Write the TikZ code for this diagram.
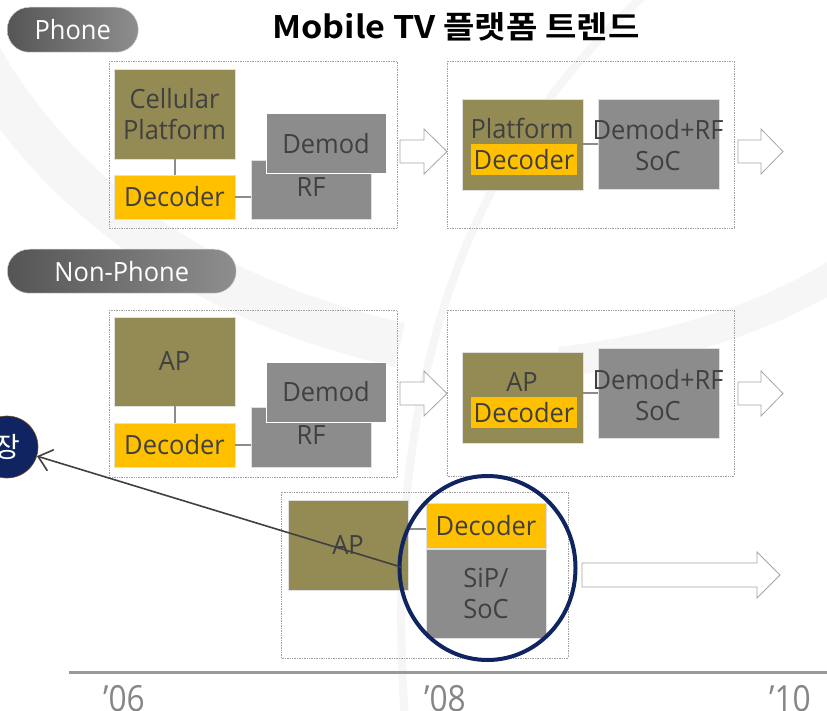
\documentclass[tikz,border=0pt]{standalone}
\usepackage{fontspec}
\setmainfont{Open Sans}[FakeStretch=0.96]
\newfontfamily\cjk{Noto Sans CJK KR}
\newfontfamily\cjkbold{Noto Sans CJK KR Bold}[FakeStretch=1.1]
\usetikzlibrary{arrows.meta}
\definecolor{olivebox}{HTML}{948A54}
\definecolor{yelbox}{HTML}{FFC000}
\definecolor{greybox}{HTML}{8C8C8C}
\definecolor{txtgrey}{HTML}{404040}
\definecolor{navy}{HTML}{0F2460}
\definecolor{pilldark}{HTML}{555555}
\definecolor{pilllight}{HTML}{8E8E8E}
\definecolor{swoosh}{HTML}{F6F6F6}
\tikzset{
  box/.style={anchor=north west, inner sep=0pt, outer sep=0pt, draw=white!88!black, line width=0.8pt,
     text=txtgrey, font=\fontsize{26.5}{31}\selectfont, align=center},
  olivebx/.style={box, fill=olivebox},
  yelbx/.style={box, fill=yelbox},
  greybx/.style={box, fill=greybox},
  frame/.style={draw=gray!75, densely dotted, line width=0.7pt},
  link/.style={draw=greybox, line width=2pt},
  hollow/.style={draw=gray!70, fill=white, line width=0.8pt},
  pill/.style={anchor=north west, rounded corners=22pt, left color=pilldark, right color=pilllight,
     draw=white!85!black, line width=0.5pt, text=white, font=\fontsize{26.5}{30}\selectfont, inner sep=0pt},
  lbl/.style={text=txtgrey, font=\fontsize{26.5}{31}\selectfont, align=center, inner sep=0pt},
  yearlbl/.style={anchor=base, text=gray!95, font=\fontsize{36}{40}\selectfont\addfontfeature{FakeStretch=0.88}, inner sep=0pt}
}
\begin{document}
\begin{tikzpicture}[x=1pt,y=-1pt]
\useasboundingbox[fill=white] (0,0) rectangle (827,711);
% faint background swooshes
\draw[swoosh, line width=45pt] (-40,20) .. controls (40,190) and (200,300) .. (400,345);
\draw[swoosh, line width=8pt] (650,-10) .. controls (480,140) and (380,360) .. (405,720);
\draw[swoosh, line width=30pt] (850,265) .. controls (770,320) and (660,350) .. (560,362);

% title
\node[font=\cjkbold\fontsize{31}{34}\selectfont, inner sep=0pt] (title) at (456,27) {Mobile TV 플랫폼 트렌드};

% pills
\node[pill, minimum width=131, minimum height=45] (phone) at (7,7) {Phone};
\node[pill, minimum width=229, minimum height=44] (nonphone) at (7,249) {Non-Phone};

% ---------- Phone, stage 1
\draw[frame] (109,61) rectangle (397,228);
\node[olivebx, minimum width=121, minimum height=90] (p1cell) at (114,69) {Cellular\\Platform};
\node[yelbx, minimum width=121, minimum height=44] (p1dec) at (114,175) {Decoder};
\node[greybx, minimum width=120, minimum height=59] (p1rf) at (251,160) {\raisebox{4pt}{RF}};
\node[greybx, draw=white, line width=1pt, minimum width=120, minimum height=60] (p1dem) at (266,114) {Demod};
\draw[link] (p1cell) -- (p1dec);
\draw[link] (p1dec.east) -- (p1dec.east -| p1rf.west);

\draw[hollow] (400,140) -- (424,140) -- (424,129) -- (447,151.5) -- (424,174) -- (424,163) -- (400,163) -- cycle;

% ---------- Phone, stage 2
\draw[frame] (447,61) rectangle (734,228);
\node[olivebx, minimum width=121, minimum height=91] (p2plat) at (462,99) {};
\node[greybx, minimum width=121, minimum height=90] (p2soc) at (598,99) {};
\draw[link] (p2plat.east) -- (p2plat.east -| p2soc.west);
\node[lbl] (p2platt) at (522,128) {Platform};
\node[yelbx, draw=none, minimum width=106, minimum height=31] (p2dec) at (471,144) {Decoder};
\node[lbl] (p2soct) at (658,145) {Demod+RF\\SoC};

\draw[hollow] (738,140) -- (761,140) -- (761,129) -- (783,151.5) -- (761,174) -- (761,163) -- (738,163) -- cycle;

% ---------- Non-Phone, stage 1
\draw[frame] (109,310) rectangle (397,477);
\node[olivebx, minimum width=121, minimum height=89] (n1ap) at (114,317) {AP};
\node[yelbx, minimum width=121, minimum height=44] (n1dec) at (114,423) {Decoder};
\node[greybx, minimum width=120, minimum height=60] (n1rf) at (251,407) {\raisebox{4pt}{RF}};
\node[greybx, draw=white, line width=1pt, minimum width=120, minimum height=60] (n1dem) at (266,362) {Demod};
\draw[link] (n1ap) -- (n1dec);
\draw[link] (n1dec.east) -- (n1dec.east -| n1rf.west);

\draw[hollow] (400,382) -- (424,382) -- (424,371) -- (447,393.5) -- (424,416) -- (424,405) -- (400,405) -- cycle;

% ---------- Non-Phone, stage 2
\draw[frame] (447,310) rectangle (734,476);
\node[olivebx, minimum width=121, minimum height=91] (n2ap) at (462,352) {};
\node[greybx, minimum width=121, minimum height=90] (n2soc) at (598,348) {};
\draw[link] (n2soc.west -| n2ap.east) -- (n2soc.west);
\node[lbl] (n2apt) at (522,382) {AP};
\node[yelbx, draw=none, minimum width=106, minimum height=31] (n2dec) at (471,397) {Decoder};
\node[lbl] (n2soct) at (658,395) {Demod+RF\\SoC};

\draw[hollow] (738,382) -- (761,382) -- (761,371) -- (783,393.5) -- (761,416) -- (761,405) -- (738,405) -- cycle;

% ---------- Bottom stage
\draw[frame] (281,492) rectangle (568,658);
\node[olivebx, minimum width=120, minimum height=90] (bap) at (288,500) {AP};
\node[yelbx, minimum width=120, minimum height=45] (bdec) at (426,503) {Decoder};
\node[greybx, minimum width=120, minimum height=89] (bsoc) at (426,549) {SiP/\\SoC};
\draw[link] (bap.east |- bdec.west) ++(0,3) coordinate (bl) -- (bl -| bdec.west);
\draw[navy, line width=4pt] (487.5,568) ellipse [x radius=88, y radius=92];

\draw[hollow] (582,563) -- (757,563) -- (757,552) -- (780,575) -- (757,598) -- (757,587) -- (582,587) -- cycle;

% market circle
\node[circle, fill=navy, draw=brown!60!black, line width=0.6pt, minimum size=62, inner sep=0pt,
      text=white, font=\cjk\fontsize{28}{30}\selectfont] (market) at (7,447) {장};
\coordinate (start) at (401,567);
\draw[txtgrey, line width=1.6pt, -{Straight Barb[length=13pt, width=22pt, line width=1.6pt]}] (start) -- (market);

% timeline
\coordinate (axisL) at (69,672);
\coordinate (axisR) at (827,672);
\draw[gray!80, line width=3pt] (axisL) -- (axisR);
\node[yearlbl] (y06) at (124,711) {'06};
\node[yearlbl] (y08) at (445,711) {'08};
\node[yearlbl] (y10) at (790,711) {'10};
\end{tikzpicture}
\end{document}
